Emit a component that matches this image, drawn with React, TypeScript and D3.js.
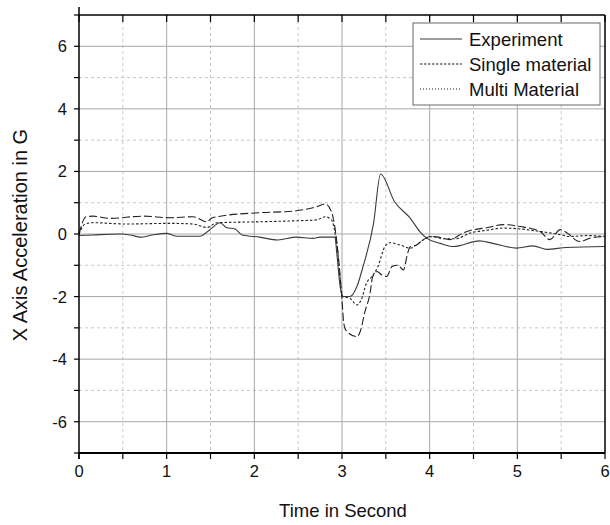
import React from "react";
import * as d3 from "d3";

const xTicks = [0, 1, 2, 3, 4, 5, 6];
const yTicks = [-6, -4, -2, 0, 2, 4, 6];
const xMinor = [0.5, 1.5, 2.5, 3.5, 4.5, 5.5];
const yMinor = [-5, -3, -1, 1, 3, 5];

const experiment: [number, number][] = [
  [0, -0.05], [0.16, -0.03], [0.47, 0], [0.6, -0.04], [0.7, -0.1], [0.84, -0.03], [1.0, 0.02],
  [1.11, -0.07], [1.38, -0.07], [1.49, 0.13], [1.61, 0.36], [1.68, 0.21], [1.78, 0.16],
  [1.86, -0.03], [2.06, -0.1], [2.27, -0.19], [2.48, -0.1], [2.67, -0.14], [2.75, -0.1],
  [2.92, -0.1], [2.94, -0.6], [2.98, -1.7], [3.01, -2.0], [3.09, -2.0], [3.17, -1.68],
  [3.24, -1.04], [3.36, 0.34], [3.44, 1.92], [3.6, 1.03], [3.78, 0.5], [3.89, 0.07],
  [3.97, -0.14], [4.12, -0.3], [4.27, -0.4], [4.57, -0.22], [4.72, -0.3], [4.99, -0.45],
  [5.18, -0.38], [5.33, -0.49], [5.56, -0.43], [6.0, -0.4],
];

const singleMaterial: [number, number][] = [
  [0, 0], [0.07, 0.32], [0.16, 0.36], [0.54, 0.32], [1.04, 0.34], [1.3, 0.32], [1.46, 0.21],
  [1.57, 0.36], [2.06, 0.39], [2.44, 0.42], [2.71, 0.45], [2.81, 0.55], [2.88, 0.45],
  [2.94, -0.3], [3.01, -2.0], [3.09, -2.05], [3.17, -2.27], [3.22, -2.1], [3.28, -1.57],
  [3.34, -1.36], [3.41, -1.04], [3.49, -0.4], [3.55, -0.28], [3.66, -0.35], [3.78, -0.45],
  [3.85, -0.35], [3.92, -0.2], [4.04, -0.08], [4.15, -0.15], [4.3, -0.15], [4.46, 0.03],
  [4.65, 0.12], [4.84, 0.19], [5.0, 0.17], [5.26, 0.08], [5.45, 0.0], [5.6, -0.08],
  [5.8, -0.05], [6.0, -0.08],
];

const multiMaterial: [number, number][] = [
  [0, 0], [0.08, 0.55], [0.16, 0.57], [0.35, 0.5], [0.73, 0.57], [1.04, 0.52], [1.3, 0.55],
  [1.46, 0.39], [1.51, 0.5], [1.61, 0.57], [2.06, 0.68], [2.44, 0.73], [2.71, 0.87],
  [2.81, 0.96], [2.88, 0.71], [2.93, 0.0], [3.0, -2.1], [3.02, -2.85], [3.05, -3.1],
  [3.17, -3.28], [3.21, -3.1], [3.26, -2.5], [3.32, -1.9], [3.35, -1.36], [3.4, -1.2],
  [3.45, -1.3], [3.51, -1.36], [3.57, -1.04], [3.64, -1.0], [3.7, -1.15], [3.75, -0.6],
  [3.78, -0.4], [3.85, -0.35], [3.92, -0.2], [4.0, -0.08], [4.1, -0.1], [4.23, -0.18],
  [4.38, 0.03], [4.46, 0.11], [4.65, 0.2], [4.84, 0.3], [5.03, 0.24], [5.26, 0.08],
  [5.37, -0.18], [5.49, 0.14], [5.56, 0.05], [5.71, -0.24], [5.85, -0.12], [6.0, -0.08],
];

const seriesNames = ["Experiment", "Single material", "Multi Material"];

export default function App() {
  const W = 610, H = 525;
  const left = 79, right = 605, top = 15, bottom = 453;
  const x = d3.scaleLinear().domain([0, 6]).range([left, right]);
  const y = d3.scaleLinear().domain([-7, 7]).range([bottom, top]);
  const line = d3.line<[number, number]>().x(d => x(d[0])).y(d => y(d[1])).curve(d3.curveMonotoneX);
  const font = "Liberation Sans, Arial, sans-serif";

  const series = [
    { data: experiment, dash: "none", color: "#3a3a3a", legendDash: "none" },
    { data: singleMaterial, dash: "2.5,2", color: "#222", legendDash: "2.5,1.5" },
    { data: multiMaterial, dash: "8,3", color: "#222", legendDash: "1,2" },
  ];

  return (
    <svg width={W} height={H} style={{ position: "absolute", left: 0, top: 0, background: "#fff" }} fontFamily={font}>
      {xMinor.map(t => (
        <line key={"xm" + t} x1={x(t)} x2={x(t)} y1={top} y2={bottom} stroke="#c8c8c8" strokeDasharray="3,3" />
      ))}
      {yMinor.map(t => (
        <line key={"ym" + t} x1={left} x2={right} y1={y(t)} y2={y(t)} stroke="#c8c8c8" strokeDasharray="3,3" />
      ))}
      {xTicks.slice(1, -1).map(t => (
        <line key={"xg" + t} x1={x(t)} x2={x(t)} y1={top} y2={bottom} stroke="#a8a8a8" />
      ))}
      {yTicks.map(t => (
        <line key={"yg" + t} x1={left} x2={right} y1={y(t)} y2={y(t)} stroke="#a8a8a8" />
      ))}
      {series.map((s, i) => (
        <path key={i} d={line(s.data) || ""} fill="none" stroke={s.color} strokeWidth={1.1} strokeDasharray={s.dash} />
      ))}
      <line x1={left} x2={right} y1={top} y2={top} stroke="#000" strokeWidth={1.5} />
      <line x1={right} x2={right} y1={top} y2={bottom} stroke="#000" strokeWidth={1.5} />
      <line x1={left} x2={right} y1={bottom} y2={bottom} stroke="#000" strokeWidth={2} />
      <line x1={left} x2={left} y1={top - 8} y2={bottom + 6} stroke="#000" strokeWidth={1.5} />
      {[...xTicks, ...xMinor].map(t => (
        <g key={"xt" + t}>
          <line x1={x(t)} x2={x(t)} y1={bottom} y2={bottom + 6} stroke="#000" strokeWidth={1.2} />
          <line x1={x(t)} x2={x(t)} y1={top} y2={top + 7} stroke="#000" strokeWidth={1.2} />
        </g>
      ))}
      {[...yTicks, ...yMinor].map(t => (
        <line key={"yt" + t} x1={left - 5} x2={left} y1={y(t)} y2={y(t)} stroke="#000" strokeWidth={1.2} />
      ))}
      <line x1={left - 5} x2={left} y1={y(-7)} y2={y(-7)} stroke="#000" strokeWidth={1.2} />
      <line x1={left - 5} x2={left} y1={y(7)} y2={y(7)} stroke="#000" strokeWidth={1.2} />
      {xTicks.map(t => (
        <text key={"xl" + t} x={x(t)} y={bottom + 24} textAnchor="middle" fontSize={16.5} fill="#111">{t}</text>
      ))}
      {yTicks.map(t => (
        <text key={"yl" + t} x={left - 12} y={y(t) + 6} textAnchor="end" fontSize={16.5} fill="#111">{t}</text>
      ))}
      <text x={(left + right) / 2 + 1} y={517} textAnchor="middle" fontSize={18.5} fill="#111">Time in Second</text>
      <text transform={`translate(27, ${(top + bottom) / 2 + 1}) rotate(-90)`} textAnchor="middle" fontSize={20} fill="#111">X Axis Acceleration in G</text>
      <rect x={413} y={23} width={187} height={82} fill="#fff" stroke="#666" strokeWidth={1} />
      {series.map((s, i) => (
        <g key={"lg" + i}>
          <line x1={420} x2={462} y1={39 + i * 25} y2={39 + i * 25} stroke={s.color} strokeWidth={1.1} strokeDasharray={s.legendDash} />
          <text x={469} y={46 + i * 25} fontSize={18.5} fill="#111">{seriesNames[i]}</text>
        </g>
      ))}
    </svg>
  );
}
